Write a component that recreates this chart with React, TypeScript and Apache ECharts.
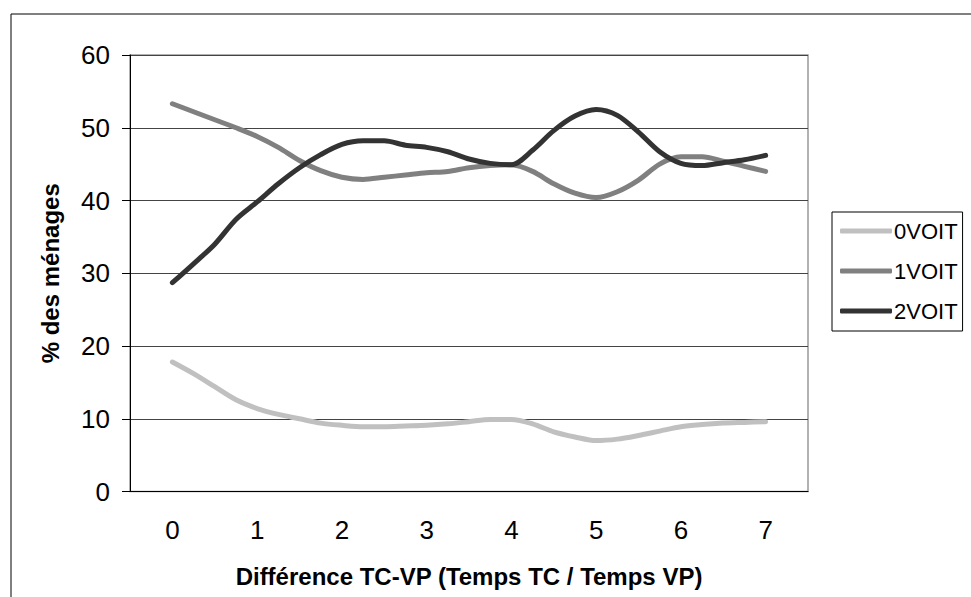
import React, { useEffect, useRef } from "react";
import * as echarts from "echarts";

const xValues = [0, 0.25, 0.5, 0.75, 1, 1.25, 1.5, 1.75, 2, 2.25, 2.5, 2.75, 3, 3.25, 3.5, 3.75, 4, 4.25, 4.5, 4.75, 5, 5.25, 5.5, 5.75, 6, 6.25, 6.5, 6.75, 7];

const voit0 = [17.8, 16.2, 14.4, 12.6, 11.4, 10.6, 10.0, 9.4, 9.1, 8.9, 8.9, 9.0, 9.1, 9.3, 9.6, 9.9, 9.9, 9.3, 8.2, 7.5, 7.0, 7.2, 7.7, 8.3, 8.9, 9.2, 9.4, 9.5, 9.6];
const voit1 = [53.3, 52.2, 51.1, 50.0, 48.8, 47.3, 45.5, 44.1, 43.2, 42.9, 43.2, 43.5, 43.8, 44.0, 44.5, 44.8, 44.9, 44.0, 42.3, 41.0, 40.4, 41.2, 42.8, 45.0, 46.0, 46.0, 45.4, 44.7, 44.0];
const voit2 = [28.7, 31.3, 34.0, 37.4, 39.8, 42.3, 44.5, 46.3, 47.7, 48.2, 48.2, 47.6, 47.3, 46.7, 45.7, 45.1, 44.9, 46.9, 49.6, 51.6, 52.5, 51.7, 49.4, 46.7, 45.1, 44.8, 45.2, 45.6, 46.2];

const seriesNames = ["0VOIT", "1VOIT", "2VOIT"];
const seriesColors = ["#c0c0c0", "#808080", "#333333"];
const yTicks = [0, 10, 20, 30, 40, 50, 60];
const xAxisName = "Différence TC-VP (Temps TC / Temps VP)";
const yAxisName = "% des ménages";

const FONT = "'Liberation Sans', Arial, sans-serif";

export default function App() {
  const ref = useRef<HTMLDivElement>(null);
  useEffect(() => {
    if (!ref.current) return;
    const chart = echarts.init(ref.current, undefined, { renderer: "svg" });
    const allData = [voit0, voit1, voit2];
    chart.setOption({
      animation: false,
      backgroundColor: "#ffffff",
      textStyle: { fontFamily: FONT },
      graphic: [
        {
          type: "rect",
          left: 8.5,
          top: 11.5,
          shape: { x: 0, y: 0, width: 990, height: 620 },
          style: { fill: "none", stroke: "#000", lineWidth: 1 },
          silent: true,
        },
      ],
      grid: {
        left: 130,
        right: 163,
        top: 55,
        bottom: 105.5,
        show: true,
        borderColor: "#999999",
        borderWidth: 1.5,
        backgroundColor: "transparent",
      },
      legend: {
        orient: "vertical",
        left: 832,
        top: 212,
        data: seriesNames,
        borderColor: "#000",
        borderWidth: 1,
        padding: [8, 5, 9, 8],
        icon: "roundRect",
        itemWidth: 52,
        itemHeight: 5,
        itemGap: 18,
        textStyle: { fontFamily: FONT, fontSize: 22, color: "#000", padding: [0, 0, 0, -3] },
      },
      xAxis: {
        type: "value",
        min: -0.5,
        max: 7.5,
        splitNumber: 8,
        name: xAxisName,
        nameLocation: "middle",
        nameGap: 73,
        nameTextStyle: { fontFamily: FONT, fontSize: 24, fontWeight: "bold", color: "#000" },
        axisLine: { show: true, onZero: false, lineStyle: { color: "#000", width: 1 } },
        axisTick: { show: false },
        splitLine: { show: false },
        axisLabel: {
          fontFamily: FONT,
          fontSize: 26,
          color: "#000",
          margin: 25,
          formatter: (v: number) => (Number.isInteger(v) ? String(v) : ""),
        },
      },
      yAxis: {
        type: "value",
        min: yTicks[0],
        max: yTicks[yTicks.length - 1],
        interval: 10,
        name: yAxisName,
        nameLocation: "middle",
        nameGap: 68,
        nameRotate: 90,
        nameTextStyle: { fontFamily: FONT, fontSize: 24, fontWeight: "bold", color: "#000" },
        axisLine: { show: true, onZero: false, lineStyle: { color: "#000", width: 1 } },
        axisTick: { show: true, length: 8, inside: false, lineStyle: { color: "#000" } },
        splitLine: { show: true, lineStyle: { color: "#444", width: 1 } },
        axisLabel: { fontFamily: FONT, fontSize: 26, color: "#000", margin: 20 },
      },
      series: seriesNames.map((name, i) => ({
        name,
        type: "line",
        data: xValues.map((x, j) => [x, allData[i][j]]),
        showSymbol: false,
        symbol: "none",
        smooth: 0.3,
        lineStyle: { color: seriesColors[i], width: 5, cap: "round", join: "round" },
        itemStyle: { color: seriesColors[i] },
        z: 3 + i,
      })),
    });
    return () => chart.dispose();
  }, []);
  return (
    <div
      ref={ref}
      style={{ position: "absolute", left: 0, top: 0, width: 971, height: 597 }}
    />
  );
}
